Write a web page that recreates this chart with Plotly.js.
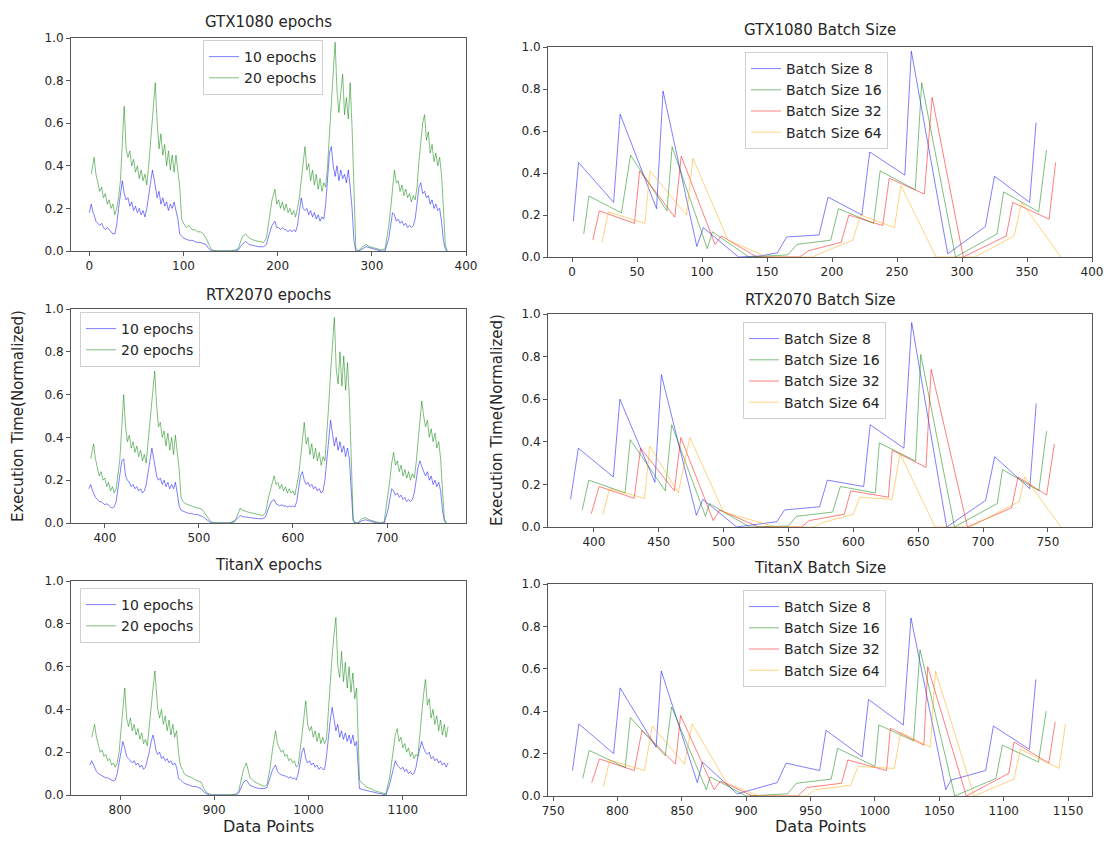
<!DOCTYPE html>
<html>
<head>
<meta charset="utf-8">
<script src="https://cdn.plot.ly/plotly-3.0.1.min.js"></script>
<style>html,body{margin:0;padding:0;background:#fff}#chart{width:1104px;height:849px}</style>
</head>
<body>
<div id="chart"></div>
<script>
// ---------- Epoch panels: relative data-point index within each GPU block ----------
const relIndex = [0,2,4,5,7,9,11,13,15,17,19,21,23,25,27,29,31,
33,35,37,39,41,43,45,47,49,51,53,55,57,59,61,63,65,67,
69,70,72,74,76,78,80,82,84,86,88,90,92,94,96,98,
100,103,106,109,112,115,118,121,124,127,130,135,140,145,150,155,
158,161,163,166,170,175,180,185,188,191,194,
197,199,201,203,205,207,209,211,213,215,217,219,221,223,225,227,
229,231,233,235,237,239,241,243,245,247,249,251,253,255,257,259,
261,263,265,267,269,271,273,275,277,279,281,283,
286,290,294,298,302,306,310,314,318,320,322,
324,326,328,330,332,334,336,338,340,342,344,346,348,350,352,354,
356,358,360,362,364,366,368,370,372,374,376,378,380];
const gtxStart = 0, rtxStart = 383, titanStart = 768;

const gtx10 = [0.18,0.22,0.18,0.17,0.14,0.13,0.12,0.13,0.11,0.10,0.11,0.10,0.09,0.08,0.08,0.12,0.20,
0.28,0.33,0.27,0.24,0.25,0.21,0.23,0.19,0.21,0.18,0.20,0.17,0.19,0.16,0.20,0.26,0.30,0.38,
0.33,0.30,0.25,0.28,0.22,0.25,0.21,0.23,0.19,0.22,0.20,0.23,0.19,0.15,0.08,0.07,
0.06,0.055,0.05,0.05,0.045,0.04,0.04,0.035,0.03,0.01,0,0,0,0,0,0,
0.005,0.025,0.035,0.045,0.03,0.025,0.02,0.02,0.03,0.08,0.12,
0.14,0.11,0.11,0.10,0.11,0.10,0.10,0.09,0.10,0.09,0.10,0.09,0.12,0.20,0.25,0.20,
0.19,0.20,0.17,0.19,0.16,0.18,0.15,0.17,0.14,0.16,0.15,0.22,0.35,0.46,0.49,0.40,
0.35,0.40,0.33,0.38,0.34,0.36,0.32,0.38,0.30,0.20,0.05,0,
0,0.01,0.02,0.015,0.01,0.005,0,0,0.06,0.12,0.18,
0.17,0.14,0.15,0.13,0.14,0.12,0.13,0.11,0.12,0.11,0.12,0.15,0.22,0.30,0.32,0.27,
0.28,0.25,0.26,0.22,0.24,0.20,0.22,0.19,0.20,0.14,0.05,0.01,0];
const gtx20 = [null,0.36,0.42,0.44,0.36,0.31,0.28,0.30,0.25,0.27,0.22,0.24,0.20,0.22,0.17,0.20,0.25,
0.33,0.50,0.68,0.48,0.44,0.47,0.40,0.43,0.37,0.40,0.34,0.38,0.33,0.36,0.31,0.40,0.50,0.62,
0.72,0.79,0.60,0.48,0.55,0.45,0.50,0.40,0.47,0.38,0.45,0.37,0.45,0.38,0.30,0.15,
0.13,0.11,0.12,0.10,0.10,0.09,0.09,0.08,0.06,0.03,0.005,0,0,0,0,0.005,
0.01,0.05,0.07,0.08,0.06,0.05,0.045,0.04,0.06,0.15,0.24,
0.29,0.22,0.24,0.20,0.23,0.19,0.22,0.18,0.20,0.17,0.19,0.16,0.20,0.25,0.33,0.42,
0.49,0.38,0.41,0.33,0.38,0.31,0.36,0.29,0.34,0.28,0.32,0.30,0.40,0.55,0.70,0.85,
0.98,0.75,0.65,0.74,0.83,0.64,0.72,0.62,0.79,0.58,0.30,0.01,
0,0.02,0.03,0.02,0.015,0.01,0.005,0.01,0.12,0.20,0.30,
0.38,0.32,0.33,0.28,0.31,0.26,0.29,0.25,0.27,0.23,0.26,0.24,0.30,0.42,0.52,0.60,
0.64,0.52,0.56,0.46,0.50,0.42,0.46,0.40,0.44,0.36,0.20,0.03,0];

const rtx10 = [0.16,0.18,0.15,0.14,0.12,0.11,0.10,0.10,0.09,0.085,0.09,0.08,0.075,0.07,0.075,0.10,0.17,
0.24,0.29,0.30,0.22,0.20,0.19,0.17,0.18,0.16,0.17,0.15,0.16,0.14,0.15,0.18,0.24,0.30,0.35,
0.30,0.27,0.22,0.20,0.21,0.18,0.20,0.17,0.19,0.16,0.18,0.16,0.19,0.14,0.08,0.06,
0.055,0.05,0.045,0.045,0.04,0.04,0.035,0.03,0.02,0.01,0,0,0,0,0,0.01,
0.025,0.035,0.03,0.028,0.025,0.022,0.02,0.02,0.03,0.07,0.10,
0.11,0.09,0.085,0.08,0.085,0.08,0.08,0.075,0.08,0.075,0.08,0.075,0.10,0.16,0.22,0.24,
0.20,0.18,0.19,0.17,0.18,0.16,0.17,0.15,0.16,0.14,0.15,0.20,0.30,0.40,0.48,0.42,
0.36,0.40,0.34,0.38,0.33,0.36,0.31,0.35,0.30,0.15,0.01,0,
0,0.01,0.015,0.01,0.005,0,0,0,0.06,0.12,0.16,
0.15,0.13,0.14,0.12,0.13,0.11,0.12,0.10,0.11,0.10,0.11,0.14,0.20,0.26,0.29,0.26,
0.24,0.22,0.24,0.20,0.22,0.18,0.20,0.17,0.19,0.15,0.06,0.01,0];
const rtx20 = [null,0.30,0.36,0.37,0.30,0.26,0.22,0.24,0.20,0.21,0.17,0.19,0.15,0.17,0.14,0.16,0.22,
0.30,0.45,0.60,0.45,0.38,0.41,0.35,0.38,0.33,0.36,0.31,0.34,0.29,0.32,0.28,0.38,0.48,0.58,
0.65,0.71,0.55,0.45,0.47,0.40,0.43,0.36,0.42,0.34,0.40,0.32,0.41,0.33,0.25,0.12,
0.10,0.09,0.085,0.08,0.075,0.07,0.07,0.06,0.04,0.02,0.005,0,0,0,0,0.005,
0.04,0.07,0.06,0.055,0.05,0.045,0.04,0.035,0.05,0.12,0.17,
0.22,0.18,0.19,0.16,0.18,0.15,0.17,0.14,0.16,0.14,0.15,0.13,0.17,0.22,0.30,0.38,
0.47,0.37,0.40,0.32,0.37,0.30,0.35,0.29,0.33,0.27,0.31,0.29,0.40,0.55,0.70,0.85,
0.96,0.72,0.65,0.80,0.64,0.78,0.62,0.75,0.58,0.30,0.02,0,
0,0.02,0.025,0.015,0.01,0.005,0,0.005,0.12,0.20,0.28,
0.33,0.27,0.29,0.24,0.27,0.22,0.25,0.21,0.24,0.20,0.23,0.21,0.28,0.38,0.48,0.57,
0.50,0.45,0.48,0.40,0.44,0.38,0.42,0.35,0.38,0.30,0.15,0.02,0];

const titan10 = [0.14,0.16,0.14,0.13,0.11,0.10,0.095,0.09,0.085,0.08,0.08,0.075,0.07,0.065,0.07,0.10,0.15,
0.20,0.25,0.22,0.18,0.17,0.16,0.15,0.16,0.14,0.15,0.13,0.14,0.12,0.13,0.16,0.20,0.25,0.28,
0.24,0.21,0.19,0.20,0.17,0.18,0.16,0.17,0.15,0.16,0.14,0.15,0.13,0.08,0.07,0.06,
0.055,0.05,0.045,0.04,0.04,0.035,0.03,0.015,0.005,0,0,0,0,0,0,0,
0.01,0.04,0.06,0.07,0.045,0.035,0.03,0.03,0.035,0.08,0.12,
0.14,0.11,0.10,0.095,0.09,0.09,0.085,0.08,0.085,0.075,0.08,0.07,0.10,0.15,0.20,0.22,
0.17,0.15,0.16,0.14,0.15,0.13,0.14,0.12,0.13,0.12,0.12,0.18,0.27,0.35,0.41,0.35,
0.30,0.33,0.27,0.30,0.26,0.29,0.25,0.28,0.24,0.28,0.23,0.25,
0.03,0.025,0.02,0.015,0.01,0.008,0.005,0,0.05,0.09,0.13,
0.16,0.14,0.13,0.12,0.13,0.11,0.12,0.10,0.11,0.095,0.10,0.13,0.18,0.22,0.25,0.22,
0.20,0.19,0.20,0.17,0.18,0.16,0.17,0.15,0.16,0.14,0.15,0.13,0.15];
const titan20 = [null,0.27,0.32,0.33,0.27,0.23,0.20,0.21,0.18,0.19,0.16,0.17,0.14,0.15,0.13,0.15,0.20,
0.30,0.40,0.50,0.36,0.32,0.36,0.30,0.33,0.28,0.31,0.26,0.29,0.24,0.26,0.23,0.32,0.42,0.50,
0.58,0.50,0.40,0.36,0.40,0.33,0.37,0.30,0.35,0.28,0.33,0.27,0.30,0.20,0.14,0.12,
0.10,0.09,0.085,0.08,0.07,0.065,0.06,0.03,0.01,0.005,0,0,0,0,0,0.005,
0.02,0.08,0.12,0.15,0.08,0.06,0.05,0.04,0.05,0.12,0.22,
0.30,0.24,0.22,0.20,0.21,0.18,0.19,0.16,0.17,0.15,0.16,0.13,0.14,0.20,0.28,0.36,
0.44,0.33,0.30,0.32,0.27,0.30,0.25,0.29,0.24,0.27,0.24,0.26,0.40,0.55,0.65,0.75,
0.83,0.60,0.55,0.67,0.53,0.62,0.50,0.60,0.48,0.57,0.45,0.50,
0.07,0.05,0.035,0.03,0.02,0.015,0.01,0.005,0.08,0.15,0.22,
0.28,0.31,0.25,0.27,0.22,0.24,0.20,0.22,0.18,0.20,0.17,0.19,0.18,0.28,0.38,0.47,
0.54,0.42,0.45,0.36,0.40,0.33,0.37,0.30,0.35,0.28,0.33,0.27,0.32];

// ---------- Batch size panels ----------
const gtxB8x  = [1,5,32,37,65,70,96,101,128,145,158,165,190,197,223,229,256,261,289,318,325,352,357];
const gtxB8y  = [0.17,0.45,0.26,0.68,0.23,0.79,0.05,0.14,0.0,0.005,0.02,0.095,0.105,0.285,0.20,0.50,0.39,0.98,0.015,0.145,0.385,0.26,0.64];
const gtxB16x = [9,13,38,45,73,77,104,108,136,166,173,199,205,232,237,264,269,295,327,332,359,365];
const gtxB16y = [0.11,0.29,0.21,0.485,0.22,0.525,0.04,0.12,0.0,0.01,0.06,0.08,0.23,0.16,0.41,0.32,0.83,0.0,0.11,0.31,0.215,0.51];
const gtxB32x = [16,21,48,52,79,84,110,115,142,175,182,207,213,239,244,271,277,301,334,339,367,372];
const gtxB32y = [0.08,0.22,0.16,0.41,0.19,0.48,0.06,0.10,0.0,0.0,0.03,0.07,0.20,0.15,0.375,0.30,0.76,0.0,0.10,0.26,0.18,0.45];
const gtxB64x = [23,28,56,60,88,93,120,150,185,192,216,222,248,253,280,310,340,346,376];
const gtxB64y = [0.07,0.215,0.16,0.41,0.20,0.47,0.08,0.0,0.0,0.02,0.08,0.20,0.14,0.34,0.0,0.0,0.10,0.26,0.0];

const rtxB8x  = [382,388,415,420,447,452,479,484,510,541,547,574,580,608,613,639,645,672,702,709,736,741];
const rtxB8y  = [0.13,0.37,0.235,0.60,0.21,0.715,0.055,0.13,0.0,0.025,0.08,0.095,0.22,0.19,0.48,0.37,0.96,0.0,0.125,0.33,0.18,0.58];
const rtxB16x = [391,396,424,428,455,460,486,489,520,550,556,584,590,617,620,648,652,678,711,715,743,749];
const rtxB16y = [0.08,0.22,0.16,0.41,0.17,0.48,0.05,0.11,0.0,0.005,0.05,0.07,0.19,0.16,0.395,0.31,0.81,0.0,0.11,0.27,0.17,0.45];
const rtxB32x = [398,404,431,436,462,467,492,497,527,560,566,593,598,627,630,656,660,688,722,727,749,755];
const rtxB32y = [0.063,0.19,0.135,0.37,0.17,0.42,0.03,0.08,0.0,0.0,0.03,0.06,0.17,0.14,0.36,0.28,0.74,0.0,0.09,0.235,0.15,0.39];
const rtxB64x = [407,412,439,443,465,474,500,540,570,576,600,605,630,636,663,690,728,732,760];
const rtxB64y = [0.06,0.18,0.135,0.38,0.16,0.42,0.07,0.0,0.0,0.02,0.06,0.14,0.13,0.345,0.0,0.0,0.12,0.235,0.0];

const titanB8x  = [765,770,797,802,830,834,862,866,893,924,931,957,962,990,995,1022,1028,1055,1059,1086,1092,1120,1125];
const titanB8y  = [0.12,0.34,0.20,0.51,0.23,0.59,0.063,0.16,0.01,0.063,0.155,0.12,0.31,0.185,0.455,0.335,0.84,0.03,0.075,0.12,0.33,0.22,0.55];
const titanB16x = [773,778,806,810,837,842,869,872,900,932,939,966,971,1000,1003,1030,1035,1062,1094,1099,1127,1133];
const titanB16y = [0.083,0.215,0.135,0.37,0.19,0.42,0.03,0.09,0.0,0.01,0.06,0.08,0.225,0.14,0.335,0.26,0.69,0.0,0.083,0.24,0.16,0.40];
const titanB32x = [780,786,813,819,845,849,875,880,905,940,947,974,979,1009,1012,1038,1041,1071,1104,1108,1135,1140];
const titanB32y = [0.063,0.175,0.12,0.31,0.15,0.38,0.03,0.07,0.0,0.0,0.04,0.06,0.17,0.12,0.32,0.24,0.61,0.0,0.107,0.255,0.155,0.35];
const titanB64x = [789,794,821,827,852,858,885,910,947,953,981,987,1015,1020,1043,1047,1077,1108,1113,1143,1148];
const titanB64y = [0.044,0.17,0.12,0.33,0.15,0.34,0.06,0.0,0.0,0.03,0.05,0.14,0.13,0.30,0.23,0.59,0.0,0.08,0.22,0.13,0.34];

const epochNames = ['10 epochs', '20 epochs'];
const batchNames = ['Batch Size 8', 'Batch Size 16', 'Batch Size 32', 'Batch Size 64'];
const titles = ['GTX1080 epochs','GTX1080 Batch Size','RTX2070 epochs','RTX2070 Batch Size','TitanX epochs','TitanX Batch Size'];

const C_BLUE = 'rgba(0,0,255,0.5)', C_GREEN = 'rgba(0,128,0,0.5)',
      C_RED = 'rgba(255,0,0,0.5)', C_ORANGE = 'rgba(255,165,0,0.5)';

function shift(arr, s) { return arr.map(v => v + s); }

const traces = [];
function epochTraces(start, y10, y20, ax, lg) {
  const xs = shift(relIndex, start);
  traces.push({x: xs, y: y10, name: epochNames[0], type: 'scatter', mode: 'lines',
    line: {color: C_BLUE, width: 1}, xaxis: 'x'+ax, yaxis: 'y'+ax, legend: lg});
  traces.push({x: xs, y: y20, name: epochNames[1], type: 'scatter', mode: 'lines',
    line: {color: C_GREEN, width: 1}, xaxis: 'x'+ax, yaxis: 'y'+ax, legend: lg});
}
function batchTraces(series, ax, lg) {
  const cols = [C_BLUE, C_GREEN, C_RED, C_ORANGE];
  series.forEach((s, i) => traces.push({x: s[0], y: s[1], name: batchNames[i], type: 'scatter', mode: 'lines',
    line: {color: cols[i], width: 1}, xaxis: 'x'+ax, yaxis: 'y'+ax, legend: lg}));
}
epochTraces(gtxStart, gtx10, gtx20, '', 'legend');
batchTraces([[gtxB8x,gtxB8y],[gtxB16x,gtxB16y],[gtxB32x,gtxB32y],[gtxB64x,gtxB64y]], '2', 'legend2');
epochTraces(rtxStart, rtx10, rtx20, '3', 'legend3');
batchTraces([[rtxB8x,rtxB8y],[rtxB16x,rtxB16y],[rtxB32x,rtxB32y],[rtxB64x,rtxB64y]], '4', 'legend4');
epochTraces(titanStart, titan10, titan20, '5', 'legend5');
batchTraces([[titanB8x,titanB8y],[titanB16x,titanB16y],[titanB32x,titanB32y],[titanB64x,titanB64y]], '6', 'legend6');

const W = 1104, H = 849;
const FONT = 'DejaVu Sans, Arial, sans-serif';
const TXT = '#262626';
function px2x(p) { return p / W; }
function px2y(p) { return 1 - p / H; }

function xa(domainPx, range, ticks) {
  return {domain: [px2x(domainPx[0]), px2x(domainPx[1])], range: range, tickvals: ticks,
    ticktext: ticks.map(String), showgrid: false, zeroline: false, showline: true, mirror: true,
    linecolor: '#555', linewidth: 1, ticks: 'outside', ticklen: 4, tickcolor: '#555',
    tickfont: {family: FONT, size: 12, color: TXT}, fixedrange: true};
}
function ya(domainPx, anchor) {
  return {domain: [px2y(domainPx[1]), px2y(domainPx[0])], range: [0, 1],
    tickvals: [0, 0.2, 0.4, 0.6, 0.8, 1.0], ticktext: ['0.0','0.2','0.4','0.6','0.8','1.0'],
    showgrid: false, zeroline: false, showline: true, mirror: true, linecolor: '#555', linewidth: 1,
    ticks: 'outside', ticklen: 4, tickcolor: '#555', tickfont: {family: FONT, size: 12, color: TXT},
    anchor: anchor, fixedrange: true};
}
const L = [71, 466], R = [548, 1092];
const layout = {
  width: W, height: H, autosize: false, margin: {l: 0, r: 0, t: 0, b: 0},
  paper_bgcolor: '#fff', plot_bgcolor: '#fff', font: {family: FONT, color: TXT},
  xaxis:  Object.assign(xa(L, [-19.5, 400], [0,100,200,300,400]), {anchor: 'y'}),
  yaxis:  ya([38, 251], 'x'),
  xaxis2: Object.assign(xa(R, [-18.5, 400], [0,50,100,150,200,250,300,350,400]), {anchor: 'y2'}),
  yaxis2: ya([47, 257], 'x2'),
  xaxis3: Object.assign(xa(L, [364, 784], [400,500,600,700]), {anchor: 'y3'}),
  yaxis3: ya([309, 523], 'x3'),
  xaxis4: Object.assign(xa(R, [364.6, 784], [400,450,500,550,600,650,700,750]), {anchor: 'y4'}),
  yaxis4: ya([314, 527], 'x4'),
  xaxis5: Object.assign(xa(L, [748, 1167], [800,900,1000,1100]), {anchor: 'y5'}),
  yaxis5: ya([581, 795], 'x5'),
  xaxis6: Object.assign(xa(R, [746, 1168.6], [750,800,850,900,950,1000,1050,1100,1150]), {anchor: 'y6'}),
  yaxis6: ya([584, 796], 'x6'),
  showlegend: true,
  annotations: []
};
function legendAt(xp, yp) {
  return {x: px2x(xp), y: px2y(yp), xanchor: 'left', yanchor: 'top', bgcolor: 'rgba(255,255,255,0.8)',
    bordercolor: '#d0d0d0', borderwidth: 1, font: {family: FONT, size: 14, color: TXT},
    tracegroupgap: 0, itemwidth: 30};
}
layout.legend  = legendAt(203, 40);
layout.legend2 = legendAt(745, 52);
layout.legend3 = legendAt(80, 312);
layout.legend4 = legendAt(743, 322);
layout.legend5 = legendAt(80, 588);
layout.legend6 = legendAt(743, 590);

const titlePos = [[268, 22], [820, 30], [268, 295], [820, 300], [268, 565], [820, 568]];
titles.forEach((t, i) => layout.annotations.push({text: t, x: px2x(titlePos[i][0]), y: px2y(titlePos[i][1]),
  xref: 'paper', yref: 'paper', xanchor: 'center', yanchor: 'middle', showarrow: false,
  font: {family: FONT, size: 15, color: TXT}}));
[[18, 416], [497, 420]].forEach(p => layout.annotations.push({text: 'Execution Time(Normalized)',
  x: px2x(p[0]), y: px2y(p[1]), xref: 'paper', yref: 'paper', textangle: -90, showarrow: false,
  xanchor: 'center', yanchor: 'middle', font: {family: FONT, size: 15, color: TXT}}));
[[268, 826], [820, 826]].forEach(p => layout.annotations.push({text: 'Data Points',
  x: px2x(p[0]), y: px2y(p[1]), xref: 'paper', yref: 'paper', showarrow: false,
  xanchor: 'center', yanchor: 'middle', font: {family: FONT, size: 16, color: TXT}}));

Plotly.newPlot('chart', traces, layout, {staticPlot: true, displayModeBar: false});
</script>
</body>
</html>
